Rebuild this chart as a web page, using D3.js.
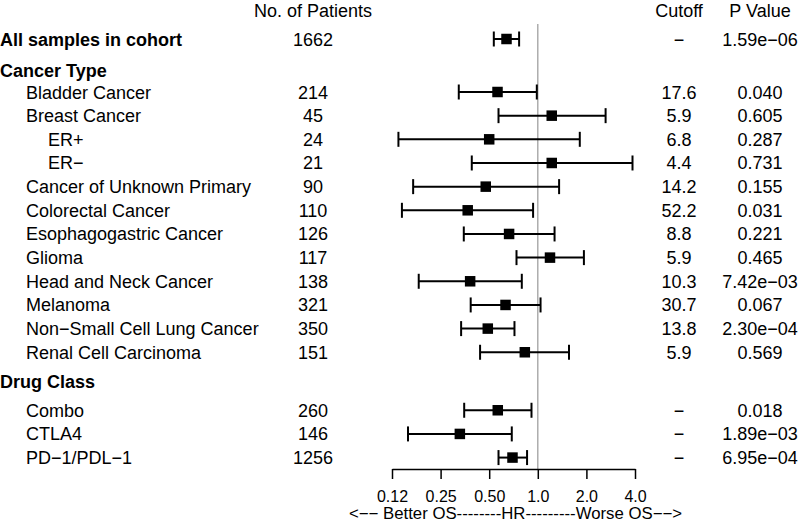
<!DOCTYPE html>
<html>
<head>
<meta charset="utf-8">
<script src="https://cdn.jsdelivr.net/npm/d3@7"></script>
<style>
  html, body { margin: 0; padding: 0; background: #fff; }
  svg { display: block; font-family: "Liberation Sans", Arial, Helvetica, sans-serif; }
</style>
</head>
<body>
<svg id="chart" width="800" height="524"></svg>
<script>
// ---- data ----
const rowLabels = ["All samples in cohort", "Cancer Type", "Bladder Cancer", "Breast Cancer", "ER+", "ER\u2212",
  "Cancer of Unknown Primary", "Colorectal Cancer", "Esophagogastric Cancer", "Glioma", "Head and Neck Cancer",
  "Melanoma", "Non\u2212Small Cell Lung Cancer", "Renal Cell Carcinoma", "Drug Class", "Combo", "CTLA4", "PD\u22121/PDL\u22121"];
const rowType = ["total", "header", "item", "item", "sub", "sub", "item", "item", "item", "item", "item",
  "item", "item", "item", "header", "item", "item", "item"];
const patients = [1662, null, 214, 45, 24, 21, 90, 110, 126, 117, 138, 321, 350, 151, null, 260, 146, 1256];
const hazardRatio = [0.64, null, 0.563, 1.22, 0.50, 1.22, 0.476, 0.368, 0.664, 1.19, 0.381, 0.631, 0.49, 0.831, null, 0.565, 0.329, 0.697];
const ciLower = [0.534, null, 0.324, 0.571, 0.137, 0.39, 0.169, 0.144, 0.348, 0.738, 0.183, 0.384, 0.335, 0.439, null, 0.35, 0.157, 0.571];
const ciUpper = [0.766, null, 0.986, 2.63, 1.82, 3.86, 1.355, 0.935, 1.27, 1.93, 0.796, 1.04, 0.717, 1.56, null, 0.914, 0.69, 0.858];
const cutoffs = ["\u2212", null, "17.6", "5.9", "6.8", "4.4", "14.2", "52.2", "8.8", "5.9", "10.3", "30.7", "13.8", "5.9", null, "\u2212", "\u2212", "\u2212"];
const pValues = ["1.59e\u221206", null, "0.040", "0.605", "0.287", "0.731", "0.155", "0.031", "0.221", "0.465", "7.42e\u221203",
  "0.067", "2.30e\u221204", "0.569", null, "0.018", "1.89e\u221203", "6.95e\u221204"];
const tickValues = [0.125, 0.25, 0.5, 1, 2, 4];
const tickLabels = ["0.12", "0.25", "0.50", "1.0", "2.0", "4.0"];
const columnHeaders = ["No. of Patients", "Cutoff", "P Value"];
const axisCaption = "<\u2212\u2212 Better OS--------HR---------Worse OS\u2212\u2212>";

// ---- layout ----
const svg = d3.select("#chart");
const x = d3.scaleLog().base(2).domain([0.125, 4]).range([392, 635]);

// vertical positions (cap-centre of each row)
const rowY = [];
{
  let y = 39;
  rowLabels.forEach((_, i) => {
    if (i > 0) {
      const prev = rowType[i - 1], cur = rowType[i];
      let step = 23.66;
      if (cur === "header" && prev === "total") step = 31;
      else if (cur === "header") step = 29;
      else if (prev === "header" && i < 5) step = 22;
      else if (prev === "header") step = 29;
      y += step;
    }
    rowY.push(y);
  });
}
const capOffset = 6.5;
const colPatients = 313, colCutoff = 679, colP = 760;
const axisY = 469;

// reference line at HR = 1
svg.append("line")
  .attr("x1", x(1)).attr("x2", x(1))
  .attr("y1", 24).attr("y2", axisY)
  .attr("stroke", "#a0a0a0").attr("stroke-width", 1.3);

// column headers
svg.append("g").selectAll("text")
  .data(columnHeaders)
  .join("text")
  .attr("x", (d, i) => [colPatients, colCutoff, colP][i])
  .attr("y", 16.5)
  .attr("text-anchor", "middle")
  .attr("font-size", 18)
  .text(d => d);

// row labels
const rows = rowLabels.map((label, i) => ({
  label, type: rowType[i], n: patients[i], hr: hazardRatio[i], lo: ciLower[i], hi: ciUpper[i],
  cut: cutoffs[i], p: pValues[i], y: rowY[i]
}));

const labelG = svg.append("g");
labelG.selectAll("text")
  .data(rows)
  .join("text")
  .attr("x", d => d.type === "sub" ? 48 : (d.type === "item" ? 26 : 0))
  .attr("y", d => d.y + capOffset)
  .attr("font-size", 18)
  .attr("font-weight", d => (d.type === "header" || d.type === "total") ? "bold" : "normal")
  .text(d => d.label);

const dataRows = rows.filter(d => d.hr != null);

svg.append("g").selectAll("text")
  .data(dataRows)
  .join("text")
  .attr("x", colPatients)
  .attr("y", d => d.y + capOffset)
  .attr("text-anchor", "middle")
  .attr("font-size", 18)
  .text(d => d.n);

svg.append("g").selectAll("text")
  .data(dataRows)
  .join("text")
  .attr("x", colCutoff)
  .attr("y", d => d.y + capOffset)
  .attr("text-anchor", "middle")
  .attr("font-size", 18)
  .text(d => d.cut);

svg.append("g").selectAll("text")
  .data(dataRows)
  .join("text")
  .attr("x", colP)
  .attr("y", d => d.y + capOffset)
  .attr("text-anchor", "middle")
  .attr("font-size", 18)
  .text(d => d.p);

// confidence intervals
const ciG = svg.append("g").attr("stroke", "#000").attr("stroke-width", 2).attr("fill", "none");
const capH = 7.5;
dataRows.forEach(d => {
  ciG.append("line").attr("x1", x(d.lo)).attr("x2", x(d.hi)).attr("y1", d.y).attr("y2", d.y);
  ciG.append("line").attr("x1", x(d.lo)).attr("x2", x(d.lo)).attr("y1", d.y - capH).attr("y2", d.y + capH);
  ciG.append("line").attr("x1", x(d.hi)).attr("x2", x(d.hi)).attr("y1", d.y - capH).attr("y2", d.y + capH);
});
const box = 10.5;
svg.append("g").selectAll("rect")
  .data(dataRows)
  .join("rect")
  .attr("x", d => x(d.hr) - box / 2)
  .attr("y", d => d.y - box / 2)
  .attr("width", box).attr("height", box)
  .attr("fill", "#000");

// x axis
const axis = d3.axisBottom(x)
  .tickValues(tickValues)
  .tickFormat((d, i) => tickLabels[i])
  .tickSize(10)
  .tickSizeOuter(0)
  .tickPadding(12);
const axG = svg.append("g").attr("transform", `translate(0,${axisY})`).call(axis);
axG.select(".domain").attr("stroke", "#000").attr("stroke-width", 1.5);
axG.selectAll(".tick line").attr("stroke", "#000").attr("stroke-width", 1.5);
axG.selectAll(".tick text")
  .attr("font-size", 16)
  .attr("font-family", "'Liberation Sans', Arial, Helvetica, sans-serif")
  .attr("fill", "#000");

svg.append("text")
  .attr("x", (x.range()[0] + x.range()[1]) / 2 + 2)
  .attr("y", 518.5)
  .attr("text-anchor", "middle")
  .attr("font-size", 16)
  .attr("textLength", 333)
  .attr("lengthAdjust", "spacingAndGlyphs")
  .text(axisCaption);
</script>
</body>
</html>
